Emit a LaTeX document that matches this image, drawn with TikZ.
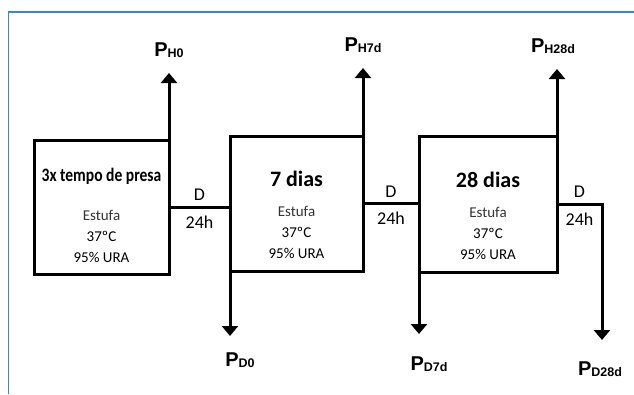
\documentclass[tikz,border=0pt]{standalone}
\usepackage{fontspec}
\setmainfont{Carlito}
\newfontfamily\arialfont{Liberation Sans}
\usepackage{graphicx}
\usepackage{xcolor}
\usepackage{tikz}
\usetikzlibrary{arrows.meta, positioning, calc}

\definecolor{framecol}{RGB}{60,135,205}
\newcommand{\pname}[1]{P\raisebox{-1pt}{\fontsize{12.5}{12.5}\selectfont #1}}

\begin{document}
\begin{tikzpicture}[
    x=1pt, y=-1pt,
    stage/.style={rectangle, draw=black, line width=3pt, outer sep=0pt},
    stagetext/.style={align=center, inner sep=0pt, font=\fontsize{15}{21}\selectfont},
    plabel/.style={inner sep=0pt, font=\arialfont\bfseries\fontsize{20}{20}\selectfont},
    dlabel/.style={inner sep=1pt, font=\fontsize{18}{18}\selectfont},
    arrow/.style={-{Triangle[width=16pt, length=10pt]}, line width=3pt}
]
    \useasboundingbox (0,0) rectangle (634,394);
    % frame
    \draw[framecol, line width=1.5pt] (8.5,394) -- (8.5,12) -- (634,12);

    % stages
    \node (b1) [stage, minimum width=135pt, minimum height=134pt] at (101.5,207) {};
    \node (b2) [stage, minimum width=133pt, minimum height=135pt] at (296.5,203.5) {};
    \node (b3) [stage, minimum width=138pt, minimum height=136pt] at (488,204) {};

    \node (t1) [stagetext, below=28pt of b1.north] {\scalebox{0.82}[1]{\fontsize{19}{19}\selectfont\bfseries 3x tempo de presa}\\[18pt]\color{black!80}Estufa\\ 37ºC\\ 95\% URA};
    \node (t2) [stagetext, below=35pt of b2.north] {{\fontsize{22}{22}\selectfont\bfseries 7 dias}\\[9pt]\color{black!80}Estufa\\ 37ºC\\ 95\% URA};
    \node (t3) [stagetext, below=36pt of b3.north] {{\fontsize{22}{22}\selectfont\bfseries 28 dias}\\[9pt]\color{black!80}Estufa\\ 37ºC\\ 95\% URA};

    % arrow tips
    \coordinate [above=67pt of b1.north east] (th0);
    \coordinate [above=68pt of b2.north east] (th7);
    \coordinate [above=67pt of b3.north east] (th28);
    \coordinate [below=65pt of b2.south west] (td0);
    \coordinate [below=62pt of b3.south west] (td7);
    \coordinate (td28) at (602,340);

    % labels
    \node (ph0) [plabel, above=15pt of th0] {\pname{H0}};
    \node (ph7) [plabel, above=15pt of th7] {\pname{H7d}};
    \node (ph28) [plabel, above=15pt of th28, xshift=-4pt] {\pname{H28d}};
    \node (pd0) [plabel, below=17pt of td0, xshift=10pt] {\pname{D0}};
    \node (pd7) [plabel, below=23pt of td7, xshift=10pt] {\pname{D7d}};
    \node (pd28) [plabel, below=22pt of td28, xshift=-2pt] {\pname{D28d}};

    \draw [arrow] (b1.north east) -- (th0);
    \draw [arrow] (b2.north east) -- (th7);
    \draw [arrow] (b3.north east) -- (th28);
    \draw [arrow] (b2.south west) -- (td0);
    \draw [arrow] (b3.south west) -- (td7);

    % transfers
    \draw [line width=3pt] (b1.east) -- (b1.east -| b2.west)
        node (d1) [dlabel, midway, above=4pt] {D}
        node (h1) [dlabel, midway, below=6pt] {24h};
    \draw [line width=3pt] (b2.east) -- (b2.east -| b3.west)
        node (d2) [dlabel, midway, above=4pt] {D}
        node (h2) [dlabel, midway, below=6pt] {24h};
    \draw [arrow] (b3.east) -| (td28)
        node (d3) [dlabel, pos=0.25, above=4pt] {D}
        node (h3) [dlabel, pos=0.25, below=6pt] {24h};
\end{tikzpicture}
\end{document}
